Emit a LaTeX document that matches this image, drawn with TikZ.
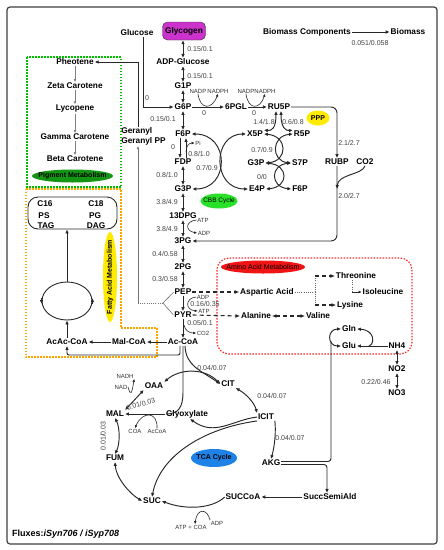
\documentclass[tikz,border=0pt]{standalone}
\usepackage{fontspec}
\setmainfont{Liberation Sans}
\usetikzlibrary{arrows.meta,shapes.geometric}
\definecolor{glyc}{RGB}{204,51,204}
\definecolor{cbbg}{RGB}{40,225,40}
\definecolor{pigg}{RGB}{20,150,20}
\definecolor{yel}{RGB}{255,235,0}
\definecolor{aared}{RGB}{240,20,20}
\definecolor{tcab}{RGB}{30,130,230}
\definecolor{gdotc}{RGB}{0,190,0}
\definecolor{odotc}{RGB}{255,165,0}
\definecolor{rdotc}{RGB}{245,40,40}
\definecolor{lnc}{RGB}{40,40,40}
\begin{document}
\begin{tikzpicture}[x=1pt,y=-1pt,
 met/.style={font=\bfseries\fontsize{8.3}{9.5}\selectfont, inner sep=0.8pt, text=black},
 flx/.style={font=\fontsize{7}{8}\selectfont, text=black!75, inner sep=0.5pt},
 smlab/.style={font=\fontsize{6}{7}\selectfont, text=black!80, inner sep=0.5pt},
 elab/.style={font=\bfseries\fontsize{7}{8}\selectfont, inner sep=0pt},
 ln/.style={line width=0.95pt, draw=lnc},
 uni/.style={ln, -{Latex[length=4pt,width=3.6pt]}},
 bi/.style={ln, {Latex[length=4pt,width=3.6pt]}-{Latex[length=4pt,width=3.6pt]}},
 sarr/.style={line width=0.6pt, draw=lnc, -{Latex[length=3pt,width=2.8pt]}},
 garr/.style={line width=0.6pt, draw=black!50, -{Latex[length=3pt,width=2.8pt]}},
 gline/.style={line width=0.6pt, draw=black!55},
 dsh/.style={line width=1.1pt, draw=lnc, dash pattern=on 4pt off 3pt, -{Latex[length=4.5pt,width=4pt]}},
 dshbi/.style={line width=1.1pt, draw=lnc, dash pattern=on 4pt off 3pt, {Latex[length=4.5pt,width=4pt]}-{Latex[length=4.5pt,width=4pt]}},
 gdot/.style={line width=0.7pt, draw=black!60, dash pattern=on 1pt off 1.2pt},
 boxdot/.style={line width=1.2pt, dash pattern=on 1.5pt off 1.5pt},
]
\useasboundingbox (0,0) rectangle (444,550);
\fill[white] (0,0) rectangle (444,550);
\draw[line width=1.2pt, draw=black!75, rounded corners=3pt] (7,7) rectangle (437,544);

% ---------- region boxes ----------
\draw[boxdot, color=gdotc] (27,57) rectangle (121,187);
\draw[boxdot, color=odotc] (26,189) -- (121,189) -- (121,328) -- (157,328) -- (157,357) -- (26,357) -- cycle;
\draw[boxdot, color=rdotc, rounded corners=12pt] (217,258) rectangle (412,354);

% ---------- coloured labels ----------
\fill[pigg] (72.5,176) ellipse (40.5 and 6.5);
\node[elab] (pigtxt) at (72.5,176) {Pigment Metabolism};
\fill[yel] (110,277) ellipse (7 and 45);
\node[elab, rotate=90] (fatxt) at (110,277) {Fatty Acid Metabolism};
\fill[aared] (263,267) ellipse (42 and 6.5);
\node[font=\fontsize{7}{8}\selectfont, inner sep=0pt] (aatxt) at (263,267) {Amino Acid Metabolism};
\fill[cbbg] (219,201) ellipse (18.5 and 7.5);
\node[font=\fontsize{6.5}{7}\selectfont, inner sep=0pt] (cbbtxt) at (219,201) {CBB Cycle};
\fill[yel] (318,118) ellipse (11.5 and 7.5);
\node[elab] (ppptxt) at (318,118) {PPP};
\fill[tcab] (214,458) ellipse (23 and 9);
\node[elab] (tcatxt) at (214,458) {TCA Cycle};

% ---------- glycolysis column ----------
\node[met] (glucose) at (137,33) {Glucose};
\node[met, draw=black!80, fill=glyc, rounded corners=5pt, minimum width=43pt, minimum height=18pt, inner sep=2pt] (glycogen) at (184,31) {Glycogen};
\node[met] (adpg) at (183,62) {ADP-Glucose};
\node[met] (g1p) at (183,86) {G1P};
\node[met] (g6p) at (183,107) {G6P};
\node[met] (f6p) at (183,134) {F6P};
\node[met] (fdp) at (183,162) {FDP};
\node[met] (g3p) at (183,189) {G3P};
\node[met] (dpg) at (183,216) {13DPG};
\node[met] (pg3) at (183,241) {3PG};
\node[met] (pg2) at (183,267) {2PG};
\node[met] (pep) at (183,292) {PEP};
\node[met] (pyr) at (183,315) {PYR};
\node[met] (accoa) at (183,342) {Ac-CoA};

\draw[bi] (adpg.north) -- (adpg.north |- glycogen.south);
\draw[bi] (g1p.north) -- (adpg.south);
\draw[bi] (g6p.north) -- (g1p.south);
\draw[uni] ([xshift=6pt]glucose.south) |- (g6p.west);
\draw[bi] (f6p.north) -- (g6p.south);
\draw[uni] ([xshift=-3pt]f6p.south) -- ([xshift=-3pt]fdp.north);
\draw[uni] ([xshift=3pt]fdp.north) -- ([xshift=3pt]f6p.south);
\draw[bi] (g3p.north) -- (fdp.south);
\draw[bi] (dpg.north) -- (g3p.south);
\draw[bi] (pg3.north) -- (dpg.south);
\draw[bi] (pg2.north) -- (pg3.south);
\draw[bi] (pep.north) -- (pg2.south);
\draw[uni] (pep.south) -- (pyr.north);
\draw[uni] (pyr.south) -- (accoa.north);

\node[flx] (l1) at (200,49) {0.15/0.1};
\node[flx] (l2) at (200,76) {0.15/0.1};
\node[flx] (l3) at (147,98) {0};
\node[flx] (l4) at (163,119) {0.15/0.1};
\node[flx] (l5) at (173,147) {0};
\node[flx] (l6) at (199,154) {0.8/1.0};
\node[flx] (l7) at (167,175) {0.8/1.0};
\node[flx] (l8) at (167,202) {3.8/4.9};
\node[flx] (l9) at (167,229) {3.8/4.9};
\node[flx] (l10) at (165,254) {0.4/0.58};
\node[flx] (l11) at (165,279) {0.3/0.58};
\node[flx] (l12) at (205,304) {0.16/0.35};
\node[flx] (l13) at (200,323) {0.05/0.1};

\node[smlab] (pi) at (198,143) {Pi};
\coordinate (pij) at (186,152);
\draw[sarr] (pij) .. controls (186,146) and (189,143) .. (pi.west);
\node[smlab] (atp1) at (203,220) {ATP};
\node[smlab] (adp1) at (204,233) {ADP};
\draw[sarr] (atp1.west) .. controls (185,221) and (185,231) .. (adp1.west);
\node[smlab] (adp2) at (203,297) {ADP};
\node[smlab] (atp2) at (204,311) {ATP};
\draw[sarr] (adp2.west) .. controls (185,298) and (185,310) .. (atp2.west);
\node[smlab] (co2b) at (203,333) {CO2};
\coordinate (pyrj) at (184,325);
\draw[sarr] (pyrj) .. controls (185,331) and (190,333) .. (co2b.west);

% ---------- PPP ----------
\node[met] (pgl) at (236,107) {6PGL};
\node[met] (ru5p) at (279,107) {RU5P};
\node[smlab] (nadpa) at (198,91) {NADP};
\node[smlab] (nadpha) at (218,91) {NADPH};
\node[smlab] (nadpb) at (246,91) {NADP};
\node[smlab] (nadphb) at (265,91) {NADPH};
\draw[uni] (g6p.east) -- (pgl.west);
\draw[uni] (pgl.east) -- (ru5p.west);
\draw[sarr] (nadpa.south) .. controls (200,110) and (212,110) .. (nadpha.south);
\draw[sarr] (nadpb.south) .. controls (248,110) and (260,110) .. (nadphb.south);
\node[flx] (l14) at (204,113) {0};
\node[flx] (l15) at (254,113) {0};

\node[met] (x5p) at (255,134) {X5P};
\node[met] (r5p) at (302,134) {R5P};
\node[met] (g3pb) at (256,163) {G3P};
\node[met] (s7p) at (300,163) {S7P};
\node[met] (e4p) at (257,189) {E4P};
\node[met] (f6pb) at (300,189) {F6P};
\node[met] (rubp) at (337,162) {RUBP};
\node[met] (co2) at (365,162) {CO2};

\draw[bi] ([xshift=-3pt]ru5p.south) .. controls (276,128) and (272,131) .. (x5p.north east);
\draw[bi] ([xshift=2pt]ru5p.south) .. controls (281,128) and (286,131) .. (r5p.north west);
\node[flx] (l16) at (264,122) {1.4/1.8};
\node[flx] (l17) at (293,122) {0.6/0.8};

% CBB crossing arcs
\draw[bi] (f6p.east) .. controls (230,134) and (230,189) .. (g3p.east);
\draw[bi] (x5p.west) .. controls (212,134) and (212,189) .. (e4p.west);
\node[flx] (l18) at (207,168) {0.7/0.9};
% transketolase / transaldolase
\draw[bi] (x5p.east) .. controls (288,136) and (288,161) .. (g3pb.east);
\draw[bi] (r5p.west) .. controls (271,136) and (271,161) .. (s7p.west);
\node[flx] (l19) at (262,150) {0.7/0.9};
\draw[bi] (g3pb.east) .. controls (289,165) and (289,187) .. (e4p.east);
\draw[bi] (s7p.west) .. controls (270,165) and (270,187) .. (f6pb.west);
\node[flx] (l20) at (262,177) {0/0};

\draw[uni, rounded corners=6pt] (ru5p.east) -| (rubp.north);
\draw[uni, rounded corners=6pt] (rubp.south) |- (pg3.east);
\coordinate (co2j) at (337,189);
\draw[uni] (co2.south) .. controls (362,175) and (338,174) .. (co2j);
\node[flx] (l21) at (349,143) {2.1/2.7};
\node[flx] (l22) at (349,196) {2.0/2.7};

% ---------- biomass ----------
\node[met] (bc) at (307,32) {Biomass Components};
\node[met] (bm) at (408,32) {Biomass};
\draw[uni] (bc.east) -- (bm.west);
\node[flx] (l23) at (370,43) {0.051/0.058};

% ---------- pigments ----------
\node[met] (pheo) at (75,62) {Pheotene};
\node[met] (zeta) at (75,86) {Zeta Carotene};
\node[met] (lyco) at (75,109) {Lycopene};
\node[met] (gamma) at (75,137) {Gamma Carotene};
\node[met] (beta) at (75,159) {Beta Carotene};
\draw[garr] (pheo.south) -- (zeta.north);
\draw[garr] (zeta.south) -- (lyco.north);
\draw[garr] (lyco.south) -- (gamma.north);
\draw[garr] (gamma.south) -- (beta.north);

\node[met, align=left] (ger) at (143.5,136.5) {Geranyl\\Geranyl PP};
\draw[uni] ([xshift=-5.5pt]ger.north) |- (pheo.east);
\coordinate (conv) at (163,303);
\coordinate (gbot) at (138,303);
\draw[gline] (pep.west) -- (conv) -- (pyr.west);
\draw[gline, dash pattern=on 1pt off 1.2pt] (conv) -- (gbot);
\draw[gline, -{Latex[length=3pt,width=2.8pt]}] (gbot) -- (gbot |- ger.south);

% ---------- fatty acids ----------
\node[draw=lnc, line width=0.9pt, rounded corners=10pt, minimum width=89pt, minimum height=32pt] (lipid) at (72.5,213) {};
\node[met] (c16) at (45,204) {C16};
\node[met] (c18) at (96,204) {C18};
\node[met] (ps) at (44,216) {PS};
\node[met] (pgx) at (95,216) {PG};
\node[met] (tag) at (46,226) {TAG};
\node[met] (dag) at (96,226) {DAG};
\node[draw=lnc, line width=0.9pt, ellipse, minimum width=50pt, minimum height=38pt] (cyc) at (67,301) {};
\draw[uni] ([yshift=3pt]cyc.west) -- ([yshift=-3pt]cyc.west);
\draw[uni] ([yshift=-3pt]cyc.east) -- ([yshift=3pt]cyc.east);
\draw[uni] (cyc.north) -- (cyc.north |- lipid.south);
\node[met] (acac) at (67,342) {AcAc-CoA};
\node[met] (malcoa) at (129,342) {Mal-CoA};
\draw[uni] (acac.north) -- (cyc.south);
\draw[uni] (accoa.west) -- (malcoa.east);
\draw[uni] (malcoa.west) -- (acac.east);
\coordinate (acacj) at (67,355);
\draw[uni, rounded corners=2pt] ([xshift=-3pt]accoa.south) |- (acacj) -- (acac.south);

% ---------- amino acids ----------
\node[met] (thr) at (356,276) {Threonine};
\node[met] (asp) at (267,292) {Aspartic Acid};
\node[met] (ile) at (383,292) {Isoleucine};
\node[met] (lys) at (350,305) {Lysine};
\node[met] (ala) at (256,316) {Alanine};
\node[met] (val) at (318,316) {Valine};
\draw[dsh] (pep.east) -- (asp.west);
\draw[dsh] (pyr.east) -- (ala.west);
\draw[dshbi] (ala.east) -- (val.west);
\coordinate (aspj) at (315,292);
\coordinate (thrj) at (315,276);
\coordinate (lysj) at (315,305);
\coordinate (ilej) at (352,292);
\draw[gdot] (asp.east) -- (aspj);
\draw[gdot] (thrj) -- (lysj);
\draw[dsh] (thrj) -- (thr.west);
\draw[dsh] (lysj) -- (lys.west);
\draw[gdot] ([xshift=-4pt]thr.south) -- (ilej);
\draw[sarr] (ilej) -- (ile.west);

% ---------- nitrogen ----------
\node[met] (gln) at (349,329) {Gln};
\node[met] (glu) at (349,346) {Glu};
\node[met] (nh4) at (397,346) {NH4};
\node[met] (no2) at (397,369) {NO2};
\node[met] (no3) at (397,393) {NO3};
\node[flx] (l24) at (376,382) {0.22/0.46};
\draw[uni] (nh4.west) -- (glu.east);
\coordinate (nhj) at (369,346);
\draw[uni] (nhj) .. controls (375,344) and (375,330) .. (gln.east);
\draw[bi] (gln.west) .. controls (327,329) and (327,346) .. (glu.west);
\draw[bi] (nh4.south) -- (no2.north);
\draw[bi] (no2.south) -- (no3.north);

% ---------- TCA ----------
\node[met] (oaa) at (154,386) {OAA};
\node[met] (cit) at (228,384) {CIT};
\node[met] (icit) at (266,417) {ICIT};
\node[met] (mal) at (115,414) {MAL};
\node[met] (glyox) at (187,414) {Glyoxylate};
\node[met] (akg) at (271,463) {AKG};
\node[met] (fum) at (115,458) {FUM};
\node[met] (suc) at (152,501) {SUC};
\node[met] (succoa) at (243,497) {SUCCoA};
\node[met] (ssa) at (330,497) {SuccSemiAld};

\draw[uni] ([xshift=2pt]accoa.south) .. controls (186,366) and (200,370) .. (cit.west);
\coordinate (gj) at (166,414);
\draw[ln] (accoa.south) -- (183,392) .. controls (183,408) and (178,414) .. (gj);
\draw[bi] (oaa.north east) .. controls (180,368) and (205,368) .. (cit.west);
\draw[bi] (cit.south east) .. controls (246,394) and (254,402) .. (icit.north west);
\draw[uni] (icit.south east) .. controls (276,430) and (275,445) .. (akg.north);
\draw[uni] (icit.west) .. controls (232,420) and (215,437) .. ([xshift=3pt]glyox.south);
\draw[uni] (icit.south west) .. controls (205,428) and (160,455) .. (suc.north);
\draw[bi] (mal.north east) -- (oaa.south west);
\draw[uni] (glyox.west) -- (mal.east);
\draw[bi] (mal.south) .. controls (120,428) and (120,444) .. (fum.north);
\draw[bi] (fum.south) .. controls (116,478) and (130,494) .. (suc.west);
\draw[uni] (succoa.west) .. controls (212,509) and (185,510) .. (suc.east);
\draw[uni] (ssa.west) -- (succoa.east);
\draw[uni, rounded corners=3pt] ([yshift=-1.5pt]akg.east) -| ([xshift=-3pt]ssa.north);
\coordinate (gluj) at (331,341);
\draw[ln, rounded corners=3pt] ([yshift=1.5pt]akg.east) -| (gluj);

\node[smlab] (nadh) at (125,376) {NADH};
\node[smlab] (nad) at (121,387) {NAD};
\draw[sarr] (nad.east) .. controls (131,398) and (132,392) .. (nadh.south east);
\node[smlab] (coa) at (135,431) {COA};
\node[smlab] (acoa) at (157,431) {AcCoA};
\draw[sarr] (acoa.north) .. controls (158,411) and (142,411) .. (coa.north);
\node[smlab] (atpcoa) at (191,527) {ATP + COA};
\node[smlab] (adp3) at (217,523) {ADP};
\draw[sarr] (adp3.north west) .. controls (207,508) and (197,508) .. ([xshift=4pt]atpcoa.north);

\node[flx] (l25) at (212,368) {0.04/0.07};
\node[flx] (l26) at (272,396) {0.04/0.07};
\node[flx] (l27) at (290,438) {0.04/0.07};
\node[flx, rotate=15] (l28) at (141,404) {0.01/0.03};
\node[flx, rotate=90] (l29) at (103,436) {0.01/0.03};

\node[anchor=west, font=\bfseries\fontsize{9}{10}\selectfont, inner sep=0pt] (fluxes) at (12,534) {Fluxes:\textit{iSyn706 / iSyp708}};
\end{tikzpicture}
\end{document}
